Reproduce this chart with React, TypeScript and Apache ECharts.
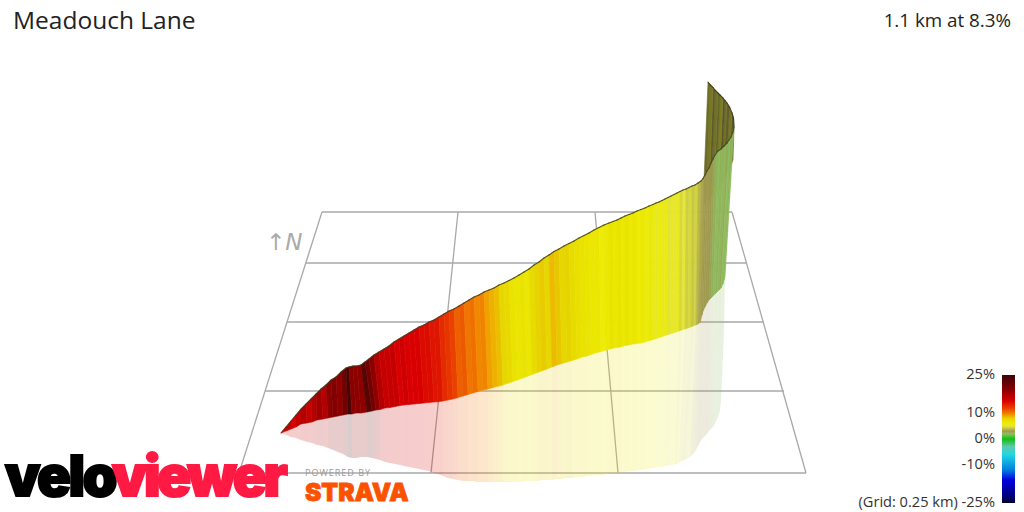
import React, { useEffect, useRef } from "react";
import * as echarts from "echarts";

const titleText = "Meadouch Lane";
const summaryText = "1.1 km at 8.3%";
const gridNote = "(Grid: 0.25 km)";

const barTicks = [25, 10, 0, -10, -25];
const gradeStops = [25, 19, 15, 12, 10, 9, 8, 7, 6, 5, 4, 3, 2, 0, -3, -6, -12, -16, -22, -25];
const colorStops = ["#3a0606", "#8e0000", "#d80000", "#ea4000", "#f08000", "#f0a800", "#e6d400", "#eae200", "#ecec06", "#e6e638", "#c0c048", "#a09850", "#8cc060", "#10c010", "#60c8b0", "#20d8e0", "#0080e0", "#0000e0", "#000080", "#000030"];

const gridFromX = [322, 306, 287, 265, 239, 322, 458, 595, 732];
const gridFromY = [212, 263, 322, 391, 473, 212, 212, 212, 212];
const gridToX = [732, 747, 764, 784, 806, 239, 431, 618, 806];
const gridToY = [212, 263, 322, 391, 473, 473, 473, 473, 473];

const topX = [
  281, 286, 291, 296, 301, 306, 311, 316, 321, 326,
  331, 336, 341, 346, 349, 353, 357, 361, 365, 369,
  374, 379, 384, 389, 394, 399, 404, 409, 414, 419,
  424, 429, 434, 439, 444, 449, 454, 459, 464, 469,
  474, 479, 484, 489, 494, 499, 504, 509, 514, 519,
  524, 529, 534, 539, 544, 549, 554, 559, 564, 569,
  574, 579, 584, 589, 594, 599, 604, 609, 613, 617,
  621, 625, 629, 633, 637, 641, 645, 649, 653, 656,
  659, 662, 665, 668, 671, 674, 677, 680, 683, 686,
  689, 692, 695, 698, 701, 703, 705, 707, 709, 711,
  713, 715, 718, 721, 724, 727, 729, 731, 733, 734,
];
const topY = [
  433, 427, 421, 415, 409, 404, 399, 394, 389, 385,
  380, 377, 372, 368, 367, 366, 366, 365, 362, 359,
  355, 352, 349, 346, 342, 339, 336, 333, 330, 327,
  325, 322, 320, 317, 314, 311, 309, 306, 303, 300,
  297, 295, 292, 290, 288, 285, 283, 280.5, 278, 275,
  272, 269, 265, 262, 258, 255, 251.5, 249, 246, 243.5,
  241, 238, 235.5, 233, 230, 227.5, 225, 223, 221.5, 220,
  218, 216, 214.5, 213, 211, 209.5, 208, 206, 204.5, 203,
  202, 200.5, 199, 197.5, 196, 194.5, 193, 191.5, 190, 189,
  187.5, 186, 185, 183, 181, 178.5, 175, 171, 168, 163,
  159, 155, 151, 149, 146, 143, 140, 137, 132, 127,
];
const baseX = [
  281, 286, 291, 296, 301, 307, 312, 317, 323, 328,
  333, 338, 343, 348, 352, 356, 361, 367, 372, 376,
  380, 385, 390, 395, 400, 404, 409, 414, 419, 424,
  429, 434, 438, 443, 448, 453, 458, 463, 468, 473,
  478, 483, 488, 493, 498, 503, 508, 513, 518, 523,
  527, 532, 537, 542, 547, 552, 557, 562, 567, 572,
  577, 582, 587, 591, 596, 601, 606, 610, 614, 618,
  622, 625, 629, 633, 637, 641, 645, 648, 652, 655,
  658, 661, 664, 667, 670, 673, 676, 679, 682, 685,
  688, 691, 694, 696, 698, 700, 702, 703, 705, 707,
  709, 711, 713, 715, 717, 719, 721, 723, 724, 725,
];
const baseY = [
  433, 431, 429, 427, 424, 423, 422, 420, 419, 418,
  417, 416, 415, 414, 414, 413, 413, 412, 411, 410,
  409.5, 408, 407.5, 406.5, 405.5, 405, 404.5, 404, 403.5, 403,
  402.5, 402, 401.8, 401, 400, 399, 397.6, 396, 394.5, 393,
  391.5, 390, 389, 387.5, 386.3, 385, 383.2, 381.5, 379.8, 378,
  376.5, 374.5, 372.7, 370.8, 369, 367, 365, 363.5, 362, 360.5,
  359, 357, 356, 354.5, 353, 351.5, 350, 349, 348, 347.5,
  346.5, 345.5, 345, 344, 343.5, 343, 342, 341, 340, 339,
  338, 337, 336, 335, 334, 333, 332, 331, 330, 329,
  328, 327, 325.5, 325, 324, 322.5, 315, 311, 307, 303,
  300, 298, 296, 294, 292, 290, 288, 284, 280, 277,
];
const shadowX = [
  281, 286, 291, 296, 301, 307, 312, 317, 323, 328,
  333, 338, 343, 348, 352, 356, 361, 367, 372, 376,
  380, 385, 390, 395, 400, 404, 409, 414, 419, 424,
  429, 434, 438, 443, 448, 453, 458, 463, 468, 473,
  478, 483, 488, 493, 498, 503, 508, 513, 518, 523,
  527, 532, 537, 542, 547, 552, 557, 562, 567, 572,
  577, 582, 587, 591, 596, 601, 606, 610, 614, 618,
  622, 625, 629, 633, 637, 641, 645, 648, 652, 655,
  658, 660, 663, 665, 668, 670, 673, 675, 677, 679,
  680, 682, 685, 690, 693, 696, 698, 700, 703, 706,
  709, 712, 714, 716, 718, 719, 720, 721, 722, 724,
];
const shadowY = [
  433, 435, 437, 438, 440, 442, 443, 445, 446, 448,
  450, 452, 454, 457, 458, 458, 457, 457, 458, 459,
  460, 462, 463, 464, 465, 466, 467, 468, 469, 470,
  471, 473, 474, 476, 478, 479, 480, 481, 481, 481,
  482, 482, 482, 482, 482, 482, 482, 482, 482, 482,
  481, 481, 481, 480, 480, 480, 479, 479, 478, 478,
  477, 477, 476, 476, 475, 475, 474, 474, 473, 473,
  472, 472, 471, 471, 470, 470, 469, 469, 468, 468,
  467, 467, 467, 466, 466, 465, 465, 464, 464, 463,
  462, 461, 460, 457, 454, 450, 446, 442, 438, 435,
  431, 428, 425, 421, 417, 414, 410, 400, 380, 330,
];
const grades = [
  15, 16, 15, 16, 17, 16, 17, 18, 17, 19,
  20, 19, 21, 24, 19.5, 19, 19, 23, 21, 19,
  17, 16, 16, 16, 15, 15.5, 15, 15, 15, 14.5,
  14.5, 14, 14, 13, 12.5, 12, 11, 11.2, 10.3, 10.5,
  9.8, 9.9, 9.2, 8.8, 8.5, 7.8, 7.6, 7, 6.7, 7,
  6.6, 7.5, 8, 8.2, 7.8, 8.6, 8.3, 7.8, 8, 7.5,
  7.2, 7, 6.8, 6.5, 6.6, 6, 6.4, 7, 6.5, 7,
  6.3, 6.8, 6.2, 6.6, 6, 6.4, 5.8, 6.3, 5.7, 5.3,
  6, 5.4, 5.8, 4.9, 5.4, 5, 5.6, 4.6, 5, 4.4,
  4.6, 4.2, 4.5, 3.8, 3.4, 3.2, 3, 3.1, 2.9, 3,
  2.7, 2.4, 2.1, 2.3, 2.2, 2.5, 2, 2.4, 2.1, 2.3,
];

const backTopX = [734, 733.5, 732, 729.5, 727, 725, 723, 720, 718, 715, 713, 710, 708];
const backTopY = [127, 118, 113, 107, 103, 100.5, 98, 95, 93, 90, 87.5, 84.5, 82];
const backBaseX = [733, 731, 729, 726, 723, 721, 719, 716, 714, 711, 709, 706, 703];
const backBaseY = [160, 165, 170, 175, 180, 185, 190, 192, 195, 197, 200, 202, 205];
const backGrades = [4, 3, 4.6, 3.4, 4.2, 3, 4.8, 3.6, 4.3, 3.2, 4.6, 4, 3.8];

function gradeColor(g: number): string {
  for (let i = 0; i < gradeStops.length - 1; i++) {
    const a = gradeStops[i];
    const b = gradeStops[i + 1];
    if (g <= a && g >= b) {
      return echarts.color.lerp((a - g) / (a - b), [colorStops[i], colorStops[i + 1]]) as string;
    }
  }
  return colorStops[colorStops.length - 1];
}

function darken(c: string, factor: number): string {
  const p = echarts.color.parse(c) as number[];
  return `rgb(${Math.round(p[0] * factor)},${Math.round(p[1] * factor)},${Math.round(p[2] * factor)})`;
}

function stripSeries(
  upperX: number[], upperY: number[], lowerX: number[], lowerY: number[],
  vals: number[], shade: number, opacity: number, strokeW: number,
) {
  return {
    type: "custom",
    coordinateSystem: "cartesian2d",
    xAxisIndex: 0,
    yAxisIndex: 0,
    clip: false,
    silent: true,
    data: upperX.map((x, i) => [x, upperY[i]]),
    renderItem: (params: any, api: any) => {
      const i = params.dataIndex;
      if (i >= upperX.length - 1) return null;
      const pts = [
        api.coord([upperX[i], upperY[i]]),
        api.coord([upperX[i + 1], upperY[i + 1]]),
        api.coord([lowerX[i + 1], lowerY[i + 1]]),
        api.coord([lowerX[i], lowerY[i]]),
      ];
      let c = gradeColor(vals[i]);
      if (shade !== 1) c = darken(c, shade);
      return {
        type: "polygon",
        shape: { points: pts },
        style: { fill: c, stroke: strokeW ? c : "none", lineWidth: strokeW, opacity },
      };
    },
  };
}

function outlineSeries(xs: number[], ys: number[]) {
  return {
    type: "custom",
    coordinateSystem: "cartesian2d",
    xAxisIndex: 0,
    yAxisIndex: 0,
    clip: false,
    silent: true,
    data: xs.map((x, i) => [x, ys[i]]),
    renderItem: (params: any, api: any) => {
      const i = params.dataIndex;
      if (i >= xs.length - 1) return null;
      const a = api.coord([xs[i], ys[i]]);
      const b = api.coord([xs[i + 1], ys[i + 1]]);
      return {
        type: "line",
        shape: { x1: a[0], y1: a[1], x2: b[0], y2: b[1] },
        style: { stroke: "#3c3c20", lineWidth: 1.1, lineCap: "round", opacity: 0.85 },
      };
    },
  };
}

const logoCss = `
svg text[fill="#010101"] { letter-spacing: -2.5px; }
svg text[fill="#ff1a44"] { letter-spacing: -3.3px; }
svg text[fill="#999999"] { letter-spacing: 1px; }
`;

export default function App() {
  const ref = useRef<HTMLDivElement>(null);
  useEffect(() => {
    document.body.style.margin = "0";
    const chart = echarts.init(ref.current!, null, { renderer: "svg" });
    const logoFont = "Inter";
    chart.setOption({
      animation: false,
      backgroundColor: "#ffffff",
      title: [
        {
          text: titleText, left: 13, top: 7, padding: 0,
          textStyle: { fontFamily: "Open Sans", fontSize: 24.5, fontWeight: 400, color: "#222222" },
        },
        {
          text: summaryText, right: 13, top: 10, padding: 0,
          textStyle: { fontFamily: "Open Sans", fontSize: 18.8, fontWeight: 400, color: "#222222" },
        },
      ],
      grid: [
        { left: 0, top: 0, width: 1024, height: 512 },
        { left: 1002, top: 375, width: 13, height: 128 },
      ],
      xAxis: [
        { type: "value", gridIndex: 0, min: 0, max: 1024, show: false },
        { type: "value", gridIndex: 1, min: 0, max: 1, show: false },
      ],
      yAxis: [
        { type: "value", gridIndex: 0, min: 0, max: 512, inverse: true, show: false },
        {
          type: "value", gridIndex: 1, min: -25, max: 25, position: "left",
          axisLine: { show: false }, axisTick: { show: false }, splitLine: { show: false },
          axisLabel: {
            customValues: barTicks,
            margin: 7,
            verticalAlign: "bottom",
            lineHeight: 4,
            fontFamily: "Open Sans",
            fontSize: 14.6,
            color: "#333333",
            formatter: (v: number) => (v === -25 ? `${gridNote} ${v}%` : `${v}%`),
          },
        },
      ],
      series: [
        {
          type: "custom",
          coordinateSystem: "cartesian2d",
          xAxisIndex: 0,
          yAxisIndex: 0,
          clip: false,
          silent: true,
          data: gridFromX.map((x, i) => [x, gridFromY[i]]),
          renderItem: (params: any, api: any) => {
            const i = params.dataIndex;
            const a = api.coord([gridFromX[i], gridFromY[i]]);
            const b = api.coord([gridToX[i], gridToY[i]]);
            return {
              type: "line",
              shape: { x1: a[0], y1: a[1], x2: b[0], y2: b[1] },
              style: { stroke: "#a8a8a8", lineWidth: 1.3 },
            };
          },
        },
        stripSeries(baseX, baseY, shadowX, shadowY, grades, 1, 0.2, 0),
        stripSeries(backTopX, backTopY, backBaseX, backBaseY, backGrades, 0.56, 1, 0.6),
        stripSeries(topX, topY, baseX, baseY, grades, 1, 1, 0.6),
        outlineSeries(topX, topY),
        outlineSeries(backTopX, backTopY),
        {
          type: "custom",
          coordinateSystem: "cartesian2d",
          xAxisIndex: 1,
          yAxisIndex: 1,
          clip: false,
          silent: true,
          data: [[0, 25]],
          renderItem: (_p: any, api: any) => {
            const a = api.coord([0, 25]);
            const b = api.coord([1, -25]);
            return {
              type: "rect",
              shape: { x: a[0], y: a[1], width: b[0] - a[0], height: b[1] - a[1] },
              style: {
                fill: {
                  type: "linear", x: 0, y: 0, x2: 0, y2: 1,
                  colorStops: gradeStops.map((g, i) => ({ offset: (25 - g) / 50, color: colorStops[i] })),
                },
              },
            };
          },
        },
      ],
      graphic: [
        {
          type: "text", x: 266, y: 230, z: 5, silent: true,
          style: { text: "↑N", fontFamily: "DejaVu Sans", fontStyle: "italic", fontSize: 23, fill: "#aaaaaa" },
        },
        {
          type: "text", x: 5, y: 447.5, z: 20, silent: true,
          style: { text: "velo", fontFamily: logoFont, fontWeight: 900, fontSize: 56, fill: "#010101", stroke: "#010101", lineWidth: 2 },
        },
        {
          type: "text", x: 112, y: 447.5, z: 21, silent: true,
          style: { text: "viewer", fontFamily: logoFont, fontWeight: 900, fontSize: 56, fill: "#ff1a44", stroke: "#ff1a44", lineWidth: 2 },
        },
        {
          type: "text", x: 305, y: 468, z: 20, silent: true,
          style: { text: "POWERED BY", fontFamily: "Open Sans", fontSize: 9, fill: "#999999" },
        },
        {
          type: "text", x: 305, y: 479, scaleX: 0.98, z: 20, silent: true,
          style: { text: "STRAVA", fontFamily: logoFont, fontWeight: 900, fontSize: 25, fill: "#fc5200", stroke: "#fc5200", lineWidth: 0.8 },
        },
      ],
    });
    return () => chart.dispose();
  }, []);
  return (
    <>
      <style>{logoCss}</style>
      <div ref={ref} style={{ width: 1024, height: 512 }} />
    </>
  );
}
